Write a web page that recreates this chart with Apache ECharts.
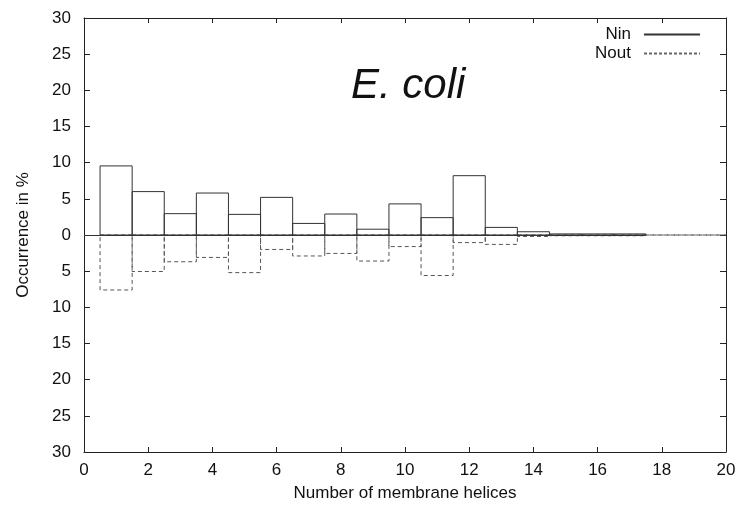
<!DOCTYPE html>
<html>
<head>
<meta charset="utf-8">
<script src="https://cdn.jsdelivr.net/npm/echarts@6/dist/echarts.min.js"></script>
<style>
  html, body { margin: 0; padding: 0; background: #fff; }
  #chart { width: 740px; height: 514px; }
</style>
</head>
<body>
<div id="chart"></div>
<script>
// helices count 1..n, percent of proteins
var helicesIn = [1, 2, 3, 4, 5, 6, 7, 8, 9, 10, 11, 12, 13, 14, 15, 16, 17];
var nin = [9.55, 6.0, 2.95, 5.8, 2.85, 5.2, 1.6, 2.9, 0.8, 4.3, 2.4, 8.2, 1.05, 0.45, 0.15, 0.15, 0.15];
var helicesOut = [1, 2, 3, 4, 5, 6, 7, 8, 9, 10, 11, 12, 13, 14, 15, 16, 17, 18, 19, 20];
var nout = [7.6, 5.05, 3.7, 3.1, 5.2, 2.0, 2.9, 2.55, 3.6, 1.6, 5.6, 1.05, 1.3, 0.2, 0.1, 0.1, 0.1, 0, 0, 0];
var xTicks = [0, 2, 4, 6, 8, 10, 12, 14, 16, 18, 20];
var yTicks = [-30, -25, -20, -15, -10, -5, 0, 5, 10, 15, 20, 25, 30];

var font = "'Liberation Sans', Arial, Helvetica, sans-serif";
var ink = "#222";

var inData = helicesIn.map(function (h, i) { return [h, nin[i]]; });
// Nout is drawn below the zero line
var outData = helicesOut.map(function (h, i) { return [h, -nout[i]]; });

function boxRenderer(color, dash) {
  return function (params, api) {
    var x = api.value(0);
    var v = api.value(1);
    var p0 = api.coord([x - 0.5, 0]);
    var p1 = api.coord([x + 0.5, v]);
    return {
      type: "rect",
      shape: {
        x: p0[0],
        y: Math.min(p0[1], p1[1]),
        width: p1[0] - p0[0],
        height: Math.abs(p1[1] - p0[1])
      },
      style: { fill: "none", stroke: color, lineWidth: 1, lineDash: dash }
    };
  };
}

var chart = echarts.init(document.getElementById("chart"), null, { renderer: "canvas" });

var option = {
  backgroundColor: "#fff",
  animation: false,
  textStyle: { fontFamily: font, color: ink },
  title: {
    text: "E. coli",
    left: 346,
    top: 60,
    textStyle: { fontFamily: font, fontStyle: "italic", fontWeight: "normal", fontSize: 42, color: "#111" }
  },
  legend: {
    orient: "vertical",
    align: "right",
    right: 34,
    top: 21,
    itemWidth: 56,
    itemHeight: 12,
    itemGap: 2,
    itemStyle: { opacity: 0 },
    textStyle: { fontFamily: font, fontSize: 17, color: "#111", padding: [0, 8, 0, 0] },
    data: ["Nin", "Nout"]
  },
  grid: { left: 84, right: 14, top: 18, bottom: 62 },
  xAxis: [{
    type: "value",
    min: xTicks[0],
    max: xTicks[xTicks.length - 1],
    interval: 2,
    name: "Number of membrane helices",
    nameLocation: "middle",
    nameGap: 33,
    nameTextStyle: { fontFamily: font, fontSize: 17, color: "#111" },
    axisLine: { onZero: false, lineStyle: { color: ink, width: 1 } },
    axisTick: { inside: true, length: 5, lineStyle: { color: ink } },
    axisLabel: { fontFamily: font, fontSize: 17, color: "#111", margin: 10 },
    splitLine: { show: false }
  }, {
    type: "value",
    position: "top",
    min: xTicks[0],
    max: xTicks[xTicks.length - 1],
    interval: 2,
    axisLine: { onZero: false, lineStyle: { color: ink, width: 1 } },
    axisTick: { inside: true, length: 5, lineStyle: { color: ink } },
    axisLabel: { show: false },
    splitLine: { show: false }
  }],
  yAxis: [{
    type: "value",
    min: yTicks[0],
    max: yTicks[yTicks.length - 1],
    interval: 5,
    name: "Occurrence in %",
    nameLocation: "middle",
    nameGap: 52,
    nameTextStyle: { fontFamily: font, fontSize: 17, color: "#111" },
    axisLine: { show: true, onZero: false, lineStyle: { color: ink, width: 1 } },
    axisTick: { show: true, inside: true, length: 6, lineStyle: { color: ink } },
    axisLabel: {
      fontFamily: font, fontSize: 17, color: "#111", margin: 13,
      formatter: function (v) { return String(Math.abs(v)); }
    },
    splitLine: { show: false }
  }, {
    type: "value",
    position: "right",
    min: yTicks[0],
    max: yTicks[yTicks.length - 1],
    interval: 5,
    axisLine: { show: true, onZero: false, lineStyle: { color: ink, width: 1 } },
    axisTick: { show: true, inside: true, length: 6, lineStyle: { color: ink } },
    axisLabel: { show: false },
    splitLine: { show: false }
  }],
  series: [
    {
      id: "noutBoxes",
      type: "custom",
      clip: true,
      renderItem: boxRenderer("#555", [4, 3]),
      data: outData,
      z: 2
    },
    {
      id: "ninBoxes",
      type: "custom",
      clip: true,
      renderItem: boxRenderer("#333", null),
      data: inData,
      z: 3,
      markLine: {
        silent: true,
        symbol: "none",
        label: { show: false },
        lineStyle: { color: "#333", width: 1, type: "solid" },
        data: [[{ coord: [0, 0] }, { coord: [helicesIn[helicesIn.length - 1] + 0.5, 0] }]]
      }
    },
    // legend samples
    { name: "Nin", type: "line", data: [], symbol: "none", color: "#333", lineStyle: { color: "#333", width: 1, type: "solid" } },
    { name: "Nout", type: "line", data: [], symbol: "none", color: "#555", lineStyle: { color: "#666", width: 1, type: [3, 2] } }
  ]
};

chart.setOption(option);
</script>
</body>
</html>
